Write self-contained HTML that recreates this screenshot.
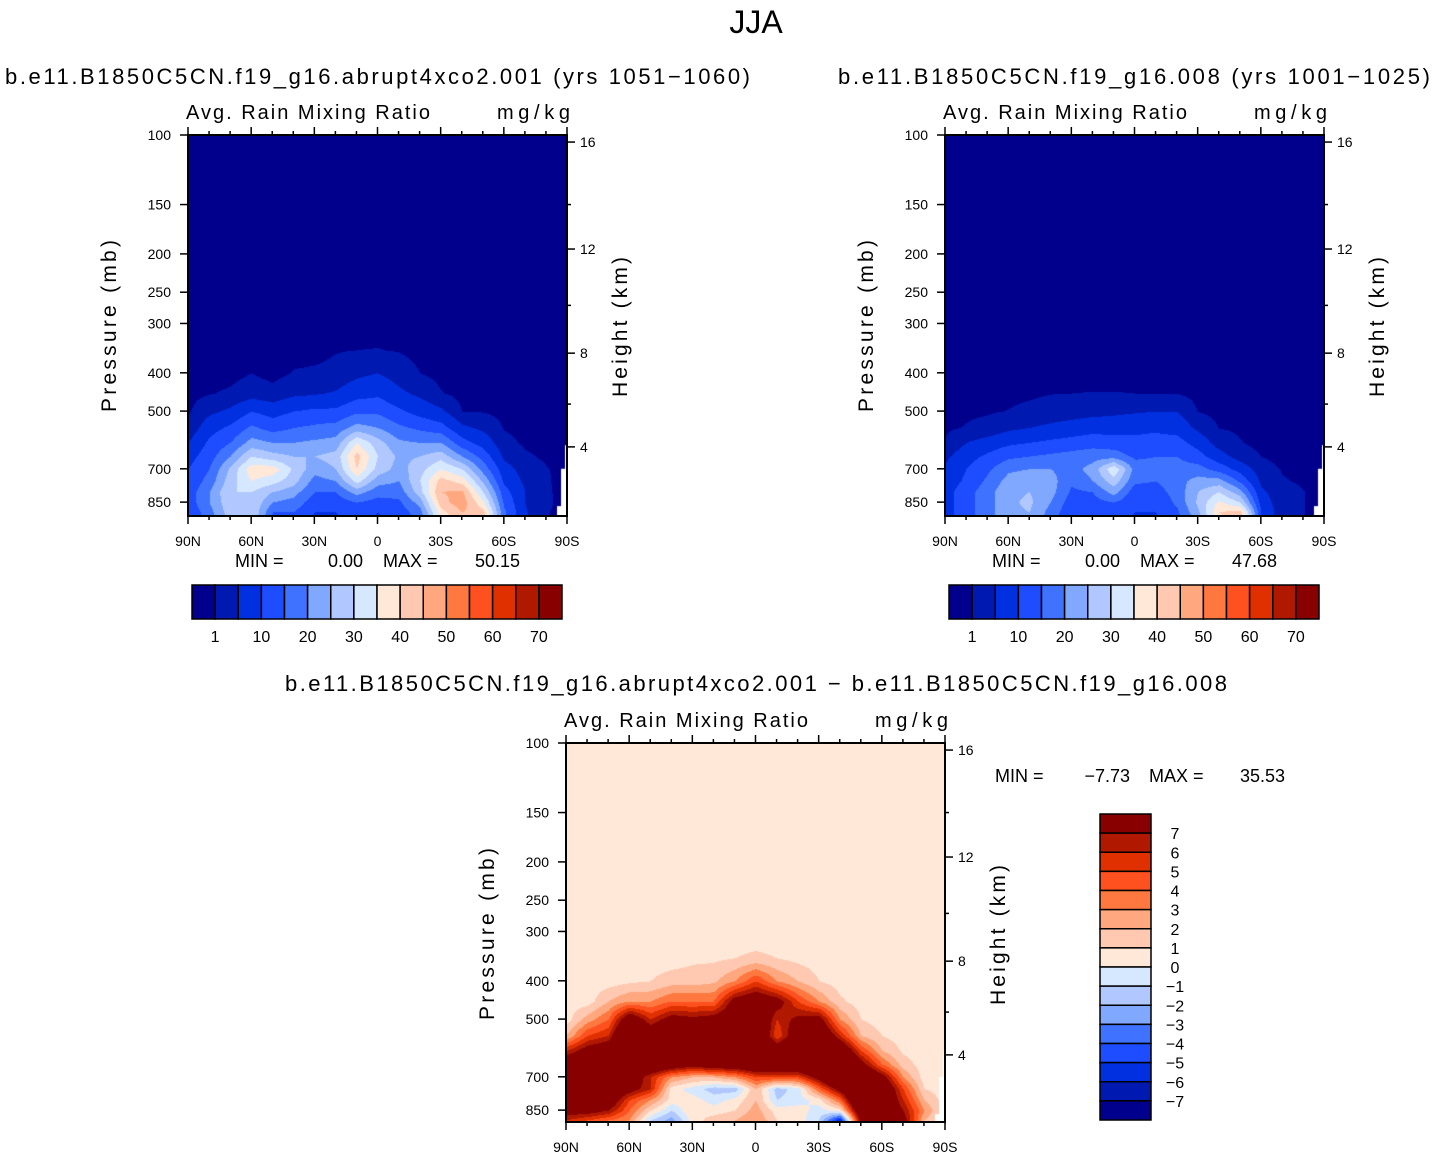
<!DOCTYPE html>
<html><head><meta charset="utf-8">
<style>
body{margin:0;background:#fff;width:1434px;height:1161px;position:relative;overflow:hidden;font-family:"Liberation Sans",sans-serif;}
canvas{position:absolute;}
svg{position:absolute;left:0;top:0;}
</style></head>
<body>
<canvas id="c1" width="379" height="381" style="left:188px;top:135px"></canvas>
<canvas id="c2" width="379" height="381" style="left:945px;top:135px"></canvas>
<canvas id="c3" width="379" height="379" style="left:566px;top:743px"></canvas>
<svg id="s" width="1434" height="1161" font-family="Liberation Sans, sans-serif"></svg>
<script>
// ---- data ----
const lats=[90,80,70,60,50,40,30,20,10,0,-10,-20,-30,-40,-50,-60,-70,-80,-90];
const levels=[100,300,350,400,450,500,550,600,650,700,750,800,850,900,950];
const z0=[0,0,0,0,0,0,0,0,0,0,0,0,0,0,0,0,0,0,0];
const rain1=[z0,z0,
[0,0,0,0,0,0,0,0.8,1,1.1,0.8,0,0,0,0,0,0,0,0],
[0,0,0,1,0,1.2,1.5,2,4,5,3,1,0,0,0,0,0,0,0],
[0,0.8,1.5,3,2,4,4.5,5.5,8,9,6,4,1.2,0,0,0,0,0,0],
[0.6,4,6,10,8,10,11,11,14,14,11,8,6,1,0.8,0,0,0,0],
[2,8,11,16,13,15,16,17,22,20,16,14,12,6,4,0.8,0,0,0],
[5,11,15,22,20,20,21,22,35,27,21,20,20,12,8,2,0.5,0,0],
[8,13,20,30,27,25,25,27,42,30,24,25,28,20,13,4,1.5,0.5,0],
[10,15,26,38,38,29,22,25,40,28,23,28,35,30,18,7,3,1.2,0],
[11,17,28,35,32,27,18,20,32,22,20,30,42,38,24,9,4,1.3,0],
[12,20,30,30,25,22,15,15,22,17,17,28,45,46,30,12,5,1.4,0],
[12,20,29,30,20,18,12,12,15,13,14,22,43,48,36,14,5,1.5,0],
[11,18,28,30,15,15,10,10,12,10,12,18,38,45,42,16,5.5,1.2,0],
[10,17,27,29,14,14,9,9,11,9,11,16,35,42,40,16,5.5,1.2,0]];
const rain2=[z0,z0,z0,z0,
[0,0,0,0.3,0.5,0.9,1,1.1,1.1,1,1,0.9,0,0,0,0,0,0,0],
[0,0.5,0.7,1.1,1.8,2.5,3,3.5,4,4.5,5,5,0.9,0,0,0,0,0,0],
[0.5,1.2,2,4,5,6,7,8,8,9,9,8,4,0.9,0.5,0,0,0,0],
[1.2,5,7,9,10,11,12,13,12,11,12,12,8,3,1.2,0,0,0,0],
[4,8,11,14,15,16,17,18,18,14,15,15,12,7,3,1,0,0,0],
[6,10,14,19,20,20,18,22,34,18,17,17,17,13,8,2.5,0.8,0.5,0],
[7,11,16,22,24,22,16,20,28,16,15,18,22,22,14,4,1.2,0.7,0],
[8,13,18,24,25,22,14,15,22,12,13,17,25,30,22,6,2,1.1,0],
[8,13,18,24,26,20,12,13,15,11,11,16,26,36,30,8,2,1.1,0],
[8,13,18,24,25,18,11,12,12,10,10,14,24,40,42,10,2,1.1,0],
[8,13,18,24,25,17,10,11,11,9,9,13,22,38,47,10,2,1.1,0]];
const h=[.5,.5,.5,.5,.5,.5,.5,.5,.5,.5,.5,.5,.5,.5,.5,.5,.5,.5,.5];
const rainDiff=[h,h,
[.5,.5,.5,.5,.5,.5,.8,.8,1,1.2,1,.7,.5,.5,.5,.5,.5,.5,.5],
[.5,.5,.5,.8,1,1.5,1.5,1.8,3,5,3,2,1,.5,.5,.5,.5,.5,.5],
[.5,.5,2,3,3,4,4,4,8,9,8,5,3,1.2,.5,.5,.5,.5,.5],
[.5,2.5,4,9,6,8,7.5,8,9,10,6,7.5,8,3,1,.5,.5,.5,.5],
[2,5,6,12,9,10,10,10,10,11,5,9,10,6,2,1,.5,.5,.5],
[6,8,9,13,12,12,12,12,12,12,9,11,12,10,5,2,.8,.5,.5],
[9,10,12,11,10,9,8,9,9,10,10,10,12,12,8,4,1.5,.5,.5],
[10,12,12,9,6,3,2,2,3,5,5,5,8,12,11,8,3,.5,.5],
[10,11,10,8,6,.5,-.5,-1.5,-1.5,2,-1.5,-.5,4,8,12,10,5,1,.5],
[9,9,9,5,3,.5,.5,-.5,.3,2,-1,-.5,.5,4,12,10,6,2,.5],
[8,8,7,4,1,-1,1,.5,1,2.5,.5,.5,-.5,.5,10,10,7,3,.5],
[6,5,4,3,-1,-2.5,.5,1.5,2,3,1,.5,-1,-6,8,9,8,2,.5],
[5,4,3,2,-2,-2,.5,1.5,2,3,1,.5,-1,-4,8,9,8,2,.5]];
const rainLevels=[1,5,10,15,20,25,30,35,40,45,50,55,60,65,70];
const diffLevels=[-7,-6,-5,-4,-3,-2,-1,0,1,2,3,4,5,6,7];
const palette=['#00008c','#0019b0','#0030e0','#1e4cff','#3f73ff','#80a8ff','#b0c8ff','#d6e8ff','#ffe8d8','#ffc8b0','#ffa880','#ff7840','#ff5020','#e03000','#b01800','#880000'];
const rainTickLabels=['1','10','20','30','40','50','60','70'];
const diffTickLabels=['7','6','5','4','3','2','1','0','−1','−2','−3','−4','−5','−6','−7'];
const pTicks=[100,150,200,250,300,400,500,700,850];
const kmTicks=[16,12,8,4];
const kmPress=[104.2,194.4,356.7,616];
const latTicks=['90N','60N','30N','0','30S','60S','90S'];

const W=379, H=381, DEC=395;
function yOfP(p){return DEC*Math.log10(p/100);}
function xOfLat(l){return (90-l)/180*W;}
function draw(id,grid,lv){
  const cv=document.getElementById(id),ctx=cv.getContext('2d');
  const img=ctx.createImageData(cv.width,cv.height);
  const ys=levels.map(yOfP);
  const rgb=palette.map(c=>[parseInt(c.substr(1,2),16),parseInt(c.substr(3,2),16),parseInt(c.substr(5,2),16)]);
  for(let py=0;py<cv.height;py++){
    let r=0;while(r<ys.length-2&&ys[r+1]<py)r++;
    let fy=(py-ys[r])/(ys[r+1]-ys[r]);fy=Math.max(0,Math.min(1,fy));
    for(let px=0;px<cv.width;px++){
      const fx=px/(W)*(lats.length-1);let c=Math.min(lats.length-2,Math.floor(fx));const tx=fx-c;
      const v=(grid[r][c]*(1-tx)+grid[r][c+1]*tx)*(1-fy)+(grid[r+1][c]*(1-tx)+grid[r+1][c+1]*tx)*fy;
      let k=0;while(k<lv.length&&v>=lv[k])k++;
      const o=(py*cv.width+px)*4;img.data[o]=rgb[k][0];img.data[o+1]=rgb[k][1];img.data[o+2]=rgb[k][2];img.data[o+3]=255;
    }
  }
  ctx.putImageData(img,0,0);
  ctx.fillStyle='#fff';
  ctx.fillRect(W-2,yOfP(610),2,H);ctx.fillRect(W-6,yOfP(700),6,H);ctx.fillRect(W-10,yOfP(870),10,H);
}
draw('c1',rain1,rainLevels);
draw('c2',rain2,rainLevels);
draw('c3',rainDiff,diffLevels);

const S=document.getElementById('s');const NS='http://www.w3.org/2000/svg';
function el(t,a,txt){const e=document.createElementNS(NS,t);for(const k in a)e.setAttribute(k,a[k]);if(txt!==undefined)e.textContent=txt;S.appendChild(e);return e;}
function text(x,y,s,size,anchor,name,extra){const e=el('text',Object.assign({x:x,y:y,'font-size':size,'text-anchor':anchor||'start',fill:'#000'},extra||{}),s);

return e;}
function line(x1,y1,x2,y2,w,name){const e=el('line',{x1:x1,y1:y1,x2:x2,y2:y2,stroke:'#000','stroke-width':w||1.5});

}

function panel(L,T,pref){
  const R=L+W,B=T+H-(pref==='diff'?2:0);
  const fr=el('rect',{x:L,y:T,width:W,height:B-T,fill:'none',stroke:'#000','stroke-width':2});
  
  
  for(let l=90;l>=-90;l-=10){const x=L+xOfLat(l);const maj=(l%30===0);
    line(x,B,x,B+(maj?8:4),1.5,pref+'-x-tick');line(x,T,x,T-(maj?8:4),1.5,pref+'-top-tick');}
  latTicks.forEach((s,i)=>text(L+i*W/6,B+30,s,14,'middle',pref+'-x-label'));
  pTicks.forEach(p=>{const y=T+yOfP(p);line(L,y,L-8,y,1.5,pref+'-y-tick');text(L-17,y+5,String(p),14,'end',pref+'-y-label');});
  kmTicks.forEach((k,i)=>{const y=T+yOfP(kmPress[i]);line(R,y,R+8,y,1.5,pref+'-km-tick');text(R+13,y+5,String(k),14,'start',pref+'-km-label');});
  [150,270,480].forEach(p=>{const y=T+yOfP(p);line(R,y,R+4,y,1.5,pref+'-km-minor');});
  text(L-72,T+191,'Pressure (mb)',21,'middle',pref+'-y-axis-title',{transform:`rotate(-90 ${L-72} ${T+191})`,'textLength':172});
  text(R+60,T+192,'Height (km)',21,'middle',pref+'-right-axis-title',{transform:`rotate(-90 ${R+60} ${T+192})`,'textLength':140});
  text(L-2,T-16,'Avg. Rain Mixing Ratio',20,'start',pref+'-variable-label',{'textLength':244});
  text(R+3,T-16,'mg/kg',20,'end',pref+'-units-label',{'textLength':73});
}
panel(188,135,'left');panel(945,135,'right');panel(566,743,'diff');

text(756,33,'JJA',32,'middle','main-title');
text(5,84,'b.e11.B1850C5CN.f19_g16.abrupt4xco2.001 (yrs 1051−1060)',22,'start','left-title',{'textLength':745});
text(838,84,'b.e11.B1850C5CN.f19_g16.008 (yrs 1001−1025)',22,'start','right-title',{'textLength':592});
text(756,691,'b.e11.B1850C5CN.f19_g16.abrupt4xco2.001 − b.e11.B1850C5CN.f19_g16.008',22,'middle','diff-title',{'textLength':942});
text(235,567,'MIN =',18,'start','left-min-label');text(363,567,'0.00',18,'end','left-min-value');
text(383,567,'MAX =',18,'start','left-max-label');text(520,567,'50.15',18,'end','left-max-value');
text(992,567,'MIN =',18,'start','right-min-label');text(1120,567,'0.00',18,'end','right-min-value');
text(1140,567,'MAX =',18,'start','right-max-label');text(1277,567,'47.68',18,'end','right-max-value');
text(995,782,'MIN =',18,'start','diff-min-label');text(1130,782,'−7.73',18,'end','diff-min-value');
text(1149,782,'MAX =',18,'start','diff-max-label');text(1285,782,'35.53',18,'end','diff-max-value');

function hbar(L,T,pref){const bw=370/16;
  palette.forEach((c,i)=>{const r=el('rect',{x:L+i*bw,y:T,width:bw,height:34,fill:c,stroke:'#000','stroke-width':1.5});
  
  });
  rainTickLabels.forEach((s,i)=>text(L+bw*(1+2*i),T+57,s,16,'middle',pref+'-colorbar-label'));}
hbar(192,585,'left');hbar(949,585,'right');
(function(){const L=1100,T=814,bh=306/16;
  palette.slice().reverse().forEach((c,i)=>{const r=el('rect',{x:L,y:T+i*bh,width:51,height:bh,fill:c,stroke:'#000','stroke-width':1.5});
  
  });
  diffTickLabels.forEach((s,i)=>text(L+75,T+bh*(i+1)+6,s,16,'middle','diff-colorbar-label'));})();
</script>
</body></html>
